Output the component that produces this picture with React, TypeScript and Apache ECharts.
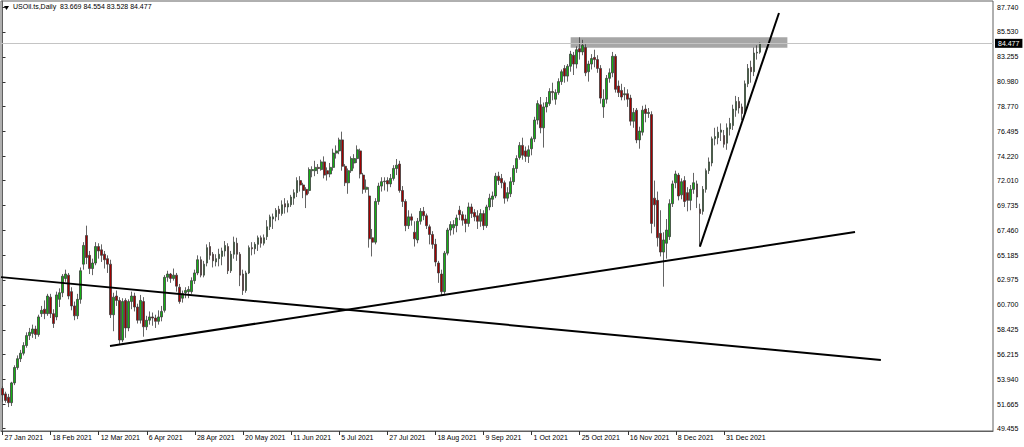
import { useEffect, useRef } from "react";
import * as echarts from "echarts";

// ---------- data ----------
const symbolTitle = "USOil.ts,Daily";
const startDate = "2021-01-27";
const holidays = ["2021-04-02", "2021-12-24"];
const totalSlots = 330;
const labelEvery = 16;
const monthNames = ["Jan", "Feb", "Mar", "Apr", "May", "Jun", "Jul", "Aug", "Sep", "Oct", "Nov", "Dec"];

const priceTicks = [49.455, 51.665, 53.94, 56.215, 58.425, 60.7, 62.975, 65.185, 67.46, 69.735, 72.01, 74.22, 76.495, 78.77, 80.98, 83.255, 85.53, 87.74];
const yMin = 49.226;
const yMax = 88.331;
const bidPrice = 84.477;

// rows: [open, close, low, high]
const jan2021 = [
  [53.1, 52.5, 51.9, 53.3], [52.6, 52.0, 51.8, 52.8], [52.3, 51.8, 51.4, 52.6],
];
const feb2021 = [
  [51.8, 53.6, 51.5, 53.7], [53.6, 55.0, 53.4, 55.2], [55.0, 55.8, 54.8, 56.1], [55.8, 56.3, 55.5, 56.6],
  [56.3, 57.0, 56.1, 57.3], [57.0, 57.9, 56.8, 58.2], [57.9, 58.2, 57.5, 58.6], [58.1, 58.5, 57.7, 58.9],
  [58.5, 58.0, 57.6, 58.8], [58.0, 59.6, 57.8, 59.8], [59.9, 60.2, 59.6, 60.6], [60.3, 59.9, 59.4, 61.1],
  [59.9, 61.5, 59.7, 61.7], [61.4, 59.9, 59.5, 61.7], [59.9, 59.0, 58.6, 60.3], [59.6, 61.6, 59.3, 61.9],
  [61.2, 61.8, 60.5, 62.2], [61.8, 63.3, 61.4, 63.5], [63.1, 63.5, 62.8, 63.9], [63.4, 61.5, 61.2, 63.6],
];
const mar2021 = [
  [61.9, 60.6, 60.2, 62.3], [60.6, 59.7, 59.3, 61.0], [59.7, 61.2, 59.4, 61.7], [61.2, 63.8, 60.8, 64.1],
  [64.4, 66.1, 63.9, 66.4], [67.0, 65.0, 64.4, 67.9], [65.2, 64.0, 63.5, 65.6], [64.0, 64.5, 63.4, 64.9],
  [64.5, 66.0, 64.3, 66.4], [66.0, 65.6, 64.9, 66.3], [65.7, 65.2, 64.6, 66.2], [65.3, 64.8, 64.0, 65.6],
  [64.9, 64.4, 63.6, 65.2], [64.4, 59.8, 59.5, 64.8], [59.8, 61.4, 58.3, 61.8], [61.5, 61.1, 60.6, 62.0],
  [61.1, 57.5, 57.1, 61.4], [57.5, 61.0, 57.3, 61.3], [61.1, 58.6, 57.7, 61.3], [58.6, 61.0, 58.3, 61.2],
  [61.0, 61.5, 60.3, 61.9], [61.5, 60.5, 60.1, 61.8], [60.5, 59.3, 59.0, 60.8],
];
const apr2021 = [
  [59.3, 61.1, 59.0, 61.6], [61.0, 58.7, 57.8, 61.4], [58.7, 59.3, 58.4, 59.7], [59.3, 59.6, 58.9, 60.1],
  [59.6, 59.5, 58.8, 60.0], [59.5, 59.2, 58.6, 59.8], [59.2, 59.6, 58.9, 60.2], [59.6, 60.1, 59.2, 60.6],
  [60.2, 63.2, 60.0, 63.4], [63.2, 63.5, 62.8, 63.8], [63.5, 63.1, 62.7, 63.6], [63.1, 63.4, 62.9, 64.0],
  [63.4, 62.4, 61.9, 63.6], [62.3, 61.0, 60.8, 62.6], [61.3, 61.7, 60.9, 62.0], [61.8, 62.0, 61.3, 62.3],
  [61.9, 62.1, 61.3, 62.4], [61.9, 62.9, 61.7, 63.2], [62.9, 63.6, 62.6, 63.9], [63.6, 64.8, 63.4, 65.2],
  [64.8, 63.4, 63.2, 65.1],
];
const may2021 = [
  [63.4, 64.4, 63.2, 64.7], [64.5, 65.9, 64.2, 66.2], [66.0, 65.2, 64.8, 66.4], [65.3, 64.7, 64.1, 65.5],
  [64.6, 64.9, 64.2, 65.3], [64.9, 65.3, 64.2, 65.8], [65.1, 65.6, 64.3, 65.9], [65.6, 66.1, 65.1, 66.5],
  [66.0, 63.8, 63.5, 66.3], [63.8, 65.3, 63.6, 65.6], [65.3, 66.4, 64.9, 66.9], [66.3, 65.3, 64.7, 66.8],
  [65.3, 63.4, 62.4, 65.5], [63.5, 62.0, 61.6, 63.9], [62.0, 63.6, 61.8, 63.8], [63.6, 65.9, 63.5, 66.1],
  [65.9, 65.8, 65.2, 66.4], [65.8, 66.2, 65.3, 66.4], [66.2, 66.8, 65.6, 67.0], [66.8, 66.3, 65.9, 67.0],
  [66.3, 66.8, 66.1, 67.1],
];
const jun2021 = [
  [66.9, 67.8, 66.6, 68.4], [67.8, 68.7, 67.5, 68.9], [68.5, 68.7, 67.6, 69.0], [68.7, 69.3, 68.3, 69.5],
  [69.4, 69.0, 68.4, 69.7], [69.0, 69.8, 68.8, 70.2], [69.9, 69.6, 69.0, 70.4], [69.6, 69.9, 69.1, 70.2],
  [69.8, 70.5, 69.6, 70.7], [70.4, 70.9, 69.8, 71.2], [70.9, 72.0, 70.5, 72.3], [72.0, 71.6, 71.0, 72.4],
  [71.6, 71.1, 70.4, 71.8], [71.2, 70.7, 69.5, 71.4], [71.1, 73.0, 70.8, 73.2], [72.9, 73.0, 72.3, 73.3],
  [72.9, 73.2, 72.4, 73.8], [73.2, 73.1, 72.6, 73.5], [73.0, 73.7, 72.9, 73.9], [73.7, 72.5, 72.2, 74.2],
  [72.9, 72.6, 72.0, 73.2], [72.6, 73.2, 72.3, 73.6],
];
const jul2021 = [
  [73.2, 74.5, 72.9, 74.9], [74.5, 74.7, 74.0, 75.2], [74.7, 75.7, 74.4, 75.9], [75.7, 73.3, 72.9, 76.45],
  [73.3, 71.8, 71.5, 73.5], [71.8, 72.9, 70.8, 73.1], [72.9, 74.0, 72.7, 74.2], [73.6, 74.0, 73.1, 74.4],
  [74.0, 74.8, 73.6, 75.2], [74.7, 72.6, 72.2, 74.9], [72.5, 71.2, 70.8, 72.7], [71.2, 71.4, 70.9, 72.1],
  [70.6, 66.7, 65.9, 71.4], [66.8, 66.4, 65.1, 67.6], [66.4, 70.1, 66.2, 70.4], [70.1, 71.5, 69.8, 71.8],
  [71.5, 71.9, 71.0, 72.3], [71.9, 71.95, 71.1, 72.3], [72.0, 71.7, 71.0, 72.3], [71.7, 72.2, 71.4, 72.6],
  [72.2, 73.1, 72.0, 73.4], [73.1, 73.4, 72.5, 73.96],
];
const aug2021 = [
  [73.5, 71.1, 70.9, 73.8], [71.1, 70.1, 69.6, 71.5], [70.1, 67.9, 67.4, 70.3], [67.9, 68.7, 67.6, 69.3],
  [68.7, 68.4, 67.9, 69.0], [67.3, 66.7, 66.0, 68.3], [66.6, 68.3, 66.3, 68.6], [68.3, 69.2, 68.0, 69.5],
  [69.2, 68.8, 68.4, 69.6], [68.8, 67.9, 67.6, 69.0], [67.8, 67.1, 66.2, 68.0], [67.1, 66.2, 65.8, 67.4],
  [66.2, 64.6, 64.2, 66.7], [64.5, 63.6, 62.7, 64.7], [63.5, 61.9, 61.6, 63.9], [61.9, 65.4, 61.7, 65.6],
  [65.4, 67.5, 65.2, 67.7], [67.5, 68.0, 67.0, 68.3], [67.7, 68.0, 67.1, 68.4], [67.9, 68.6, 67.3, 68.9],
  [69.3, 68.9, 68.4, 69.7], [68.9, 68.4, 67.9, 69.2],
];
const sep2021 = [
  [68.5, 68.1, 67.3, 68.9], [68.1, 69.6, 67.8, 70.0], [69.6, 69.0, 68.6, 69.9], [69.1, 68.7, 68.3, 69.4],
  [68.8, 68.3, 67.6, 69.3], [68.3, 69.0, 67.8, 69.4], [69.0, 67.9, 67.5, 69.3], [67.9, 69.6, 67.7, 69.8],
  [69.6, 70.4, 69.3, 70.8], [70.3, 70.6, 69.6, 71.0], [70.6, 72.4, 70.4, 72.7], [72.4, 72.0, 71.6, 72.8],
  [72.2, 71.8, 71.3, 72.6], [71.8, 70.4, 69.9, 72.0], [70.4, 70.9, 70.1, 71.4], [70.8, 71.9, 70.5, 72.3],
  [71.9, 73.1, 71.6, 73.4], [73.1, 74.0, 72.7, 74.3], [74.1, 75.2, 73.9, 75.5], [75.2, 74.3, 73.9, 75.9],
  [74.7, 74.2, 73.7, 75.1], [74.2, 74.8, 73.6, 75.2],
];
const oct2021 = [
  [74.9, 75.8, 74.3, 76.0], [75.8, 77.5, 75.5, 77.8], [77.5, 79.0, 77.1, 79.3], [78.9, 76.8, 76.3, 79.6],
  [76.8, 78.7, 75.0, 79.1], [78.7, 79.1, 78.2, 79.6], [79.0, 80.1, 78.8, 80.4], [80.1, 80.0, 79.3, 80.9],
  [79.4, 80.0, 78.9, 80.3], [80.0, 81.0, 79.8, 81.3], [81.0, 81.9, 80.7, 82.1], [82.2, 81.5, 80.9, 82.5],
  [81.5, 82.4, 81.0, 82.6], [82.4, 83.5, 81.9, 83.8], [83.4, 82.6, 81.6, 83.7], [82.6, 83.9, 82.2, 84.2],
  [84.0, 83.7, 83.0, 85.03], [83.7, 84.3, 83.4, 84.8], [84.1, 81.8, 81.5, 84.4], [81.9, 82.6, 81.0, 82.9],
  [82.6, 83.1, 82.1, 83.5],
];
const nov2021 = [
  [83.2, 83.0, 82.3, 83.9], [83.0, 82.2, 81.8, 83.4], [82.2, 79.5, 79.0, 82.5], [78.7, 79.4, 77.7, 80.3],
  [79.4, 81.3, 79.0, 81.6], [81.3, 81.8, 80.9, 82.2], [81.8, 83.3, 81.4, 83.7], [83.3, 80.3, 80.0, 83.5],
  [80.6, 80.0, 79.6, 81.1], [80.2, 79.6, 79.3, 80.8], [79.8, 79.9, 79.3, 80.5], [79.9, 79.4, 78.7, 80.3],
  [79.5, 77.4, 77.0, 79.8], [77.4, 78.2, 76.8, 78.6], [78.4, 75.7, 75.4, 78.6], [75.7, 76.5, 74.9, 76.9],
  [76.4, 78.4, 76.1, 78.8], [78.5, 78.1, 77.3, 78.9], [78.1, 78.2, 77.7, 78.6], [78.0, 68.1, 67.2, 78.3],
  [70.4, 69.8, 67.8, 72.0], [70.2, 66.8, 66.0, 71.0],
];
const dec2021 = [
  [67.2, 65.5, 65.1, 69.3], [65.5, 66.6, 62.35, 67.3], [66.3, 67.5, 64.9, 68.5], [66.9, 69.9, 66.6, 70.3],
  [69.9, 71.7, 69.6, 72.0], [71.8, 72.6, 71.3, 72.9], [72.5, 70.6, 70.2, 72.7], [70.7, 71.9, 70.3, 72.2],
  [72.0, 70.1, 69.6, 72.4], [70.9, 70.2, 69.2, 71.4], [70.2, 71.2, 69.3, 71.6], [71.2, 71.8, 70.8, 72.7],
  [71.7, 70.5, 69.5, 72.0], [69.4, 69.0, 66.0, 69.9], [69.2, 71.2, 68.9, 71.5], [71.2, 72.9, 70.9, 73.1],
  [72.9, 73.7, 72.6, 74.1], [73.6, 75.8, 73.3, 76.0], [75.8, 76.0, 75.2, 76.8], [75.9, 76.4, 75.3, 76.9],
  [76.4, 76.6, 75.6, 77.2], [76.1, 75.3, 75.0, 76.6],
];
const jan2022 = [
  [75.4, 76.8, 74.8, 77.2], [76.7, 77.2, 76.1, 77.7], [77.0, 78.5, 76.6, 78.9], [78.4, 79.2, 77.8, 79.7],
  [79.2, 78.6, 78.1, 79.6], [78.7, 78.1, 77.5, 79.0], [78.1, 80.8, 77.9, 81.1], [80.8, 82.2, 80.5, 82.6],
  [82.3, 81.9, 80.9, 82.9], [81.9, 83.6, 81.5, 84.1], [83.6, 83.67, 83.0, 84.3], [83.669, 84.477, 83.528, 84.554],
];

// resistance zone: bar index from/to, price top/bottom
const zoneBars = [189.0, 261.1];
const zonePrices = [85.04, 84.09];

// trend lines: [[barIndex, price], [barIndex, price]]
const trendDown = [[-0.5, 63.22], [292.2, 55.68]];
const trendUpLong = [[35.76, 56.96], [283.6, 67.32]];
const trendUpSteep = [[232.0, 65.99], [258.3, 87.24]];

// ---------- helpers ----------
const candles = [
  ...jan2021, ...feb2021, ...mar2021, ...apr2021, ...may2021, ...jun2021,
  ...jul2021, ...aug2021, ...sep2021, ...oct2021, ...nov2021, ...dec2021, ...jan2022,
];

function buildDates(n: number): string[] {
  const out: string[] = [];
  const d = new Date(startDate + "T00:00:00Z");
  while (out.length < n) {
    const dow = d.getUTCDay();
    const iso = d.toISOString().slice(0, 10);
    if (dow !== 0 && dow !== 6 && !holidays.includes(iso)) {
      out.push(`${d.getUTCDate()} ${monthNames[d.getUTCMonth()]} ${d.getUTCFullYear()}`);
    }
    d.setUTCDate(d.getUTCDate() + 1);
  }
  return out;
}

export default function App() {
  const ref = useRef<HTMLDivElement>(null);

  useEffect(() => {
    if (!ref.current) return;
    const chart = echarts.init(ref.current, undefined, { renderer: "svg" });
    const dates = buildDates(totalSlots);
    const nData = candles.length;
    const isLabel = (i: number) => i % labelEvery === 0 && i < nData;
    const last = candles[nData - 1];
    const headline = `${symbolTitle}  ${[last[0], last[3], last[2], last[1]].map((v) => v.toFixed(3)).join(" ")}`;
    const font = "Liberation Sans, Arial, sans-serif";

    const lineSeries = (pts: number[][]) => ({
      type: "line",
      xAxisIndex: 1,
      yAxisIndex: 0,
      data: pts,
      symbol: "none",
      silent: true,
      z: 4,
      clip: true,
      lineStyle: { color: "#000", width: 2 },
    });

    chart.setOption({
      animation: false,
      backgroundColor: "#ffffff",
      grid: {
        left: 1, right: 31, top: 1, bottom: 16,
        show: true, borderColor: "#606060", borderWidth: 1, containLabel: false,
      },
      xAxis: [
        {
          type: "category",
          data: dates,
          boundaryGap: true,
          axisLine: { show: true, lineStyle: { color: "#606060" } },
          axisTick: { show: true, alignWithLabel: true, interval: isLabel, length: 4, lineStyle: { color: "#333" } },
          axisLabel: {
            show: true, interval: isLabel, align: "left", margin: 3, padding: [0, 0, 0, 2],
            fontSize: 7, fontFamily: font, color: "#000",
          },
          splitLine: { show: false },
        },
        { type: "value", min: -0.5, max: totalSlots - 0.5, show: false },
      ],
      yAxis: {
        type: "value",
        position: "right",
        min: yMin,
        max: yMax,
        axisLine: { show: true, lineStyle: { color: "#606060" } },
        axisTick: { show: true, length: 3, customValues: priceTicks, lineStyle: { color: "#333" } },
        axisLabel: {
          customValues: priceTicks,
          formatter: (v: number) => v.toFixed(3),
          fontSize: 7, fontFamily: font, color: "#000", margin: 4,
        },
        splitLine: { show: false },
      },
      graphic: [
        { type: "polygon", shape: { points: [[4, 6], [9, 6], [6.5, 10]] }, style: { fill: "#000" } },
        {
          type: "text", left: 13, top: 3,
          style: { text: headline, font: `7px ${font}`, fill: "#000" },
        },
      ],
      series: [
        {
          type: "line",
          xAxisIndex: 1,
          data: [],
          silent: true,
          z: 1,
          markArea: {
            silent: true,
            itemStyle: { color: "#a6a6a6" },
            data: [[{ coord: [zoneBars[0], zonePrices[0]] }, { coord: [zoneBars[1], zonePrices[1]] }]],
          },
        },
        {
          type: "candlestick",
          data: candles,
          z: 2,
          barWidth: 2.3,
          silent: true,
          itemStyle: {
            color: "#14b014",
            color0: "#a00000",
            borderColor: "#3c3c3c",
            borderColor0: "#3c3c3c",
            borderWidth: 0.8,
          },
          markLine: {
            silent: true,
            symbol: ["none", "none"],
            lineStyle: { color: "#c4c4c4", width: 1, type: "solid" },
            label: {
              show: true, position: "end", formatter: bidPrice.toFixed(3),
              backgroundColor: "#000", color: "#fff", padding: [1, 3], fontSize: 7, fontFamily: font, distance: 2,
            },
            data: [{ yAxis: bidPrice }],
          },
        },
        lineSeries(trendDown),
        lineSeries(trendUpLong),
        lineSeries(trendUpSteep),
      ],
    });

    return () => chart.dispose();
  }, []);

  return (
    <div
      ref={ref}
      style={{ position: "fixed", left: 0, top: 0, width: 1024, height: 447, background: "#fff" }}
    />
  );
}
